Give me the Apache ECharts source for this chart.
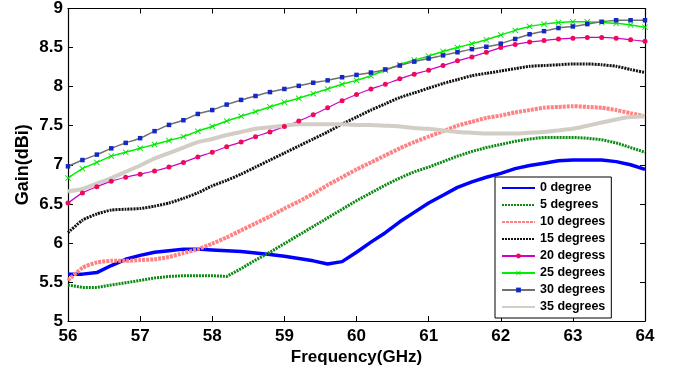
<!DOCTYPE html>
<html><head><meta charset="utf-8">
<script src="https://cdn.jsdelivr.net/npm/echarts@6/dist/echarts.min.js"></script>
<style>html,body{margin:0;padding:0;background:#fff}#c{width:680px;height:371px}</style>
</head><body><div id="c"></div>
<script>
const freq = [56.0,56.2,56.4,56.6,56.8,57.0,57.2,57.4,57.6,57.8,58.0,58.2,58.4,58.6,58.8,59.0,59.2,59.4,59.6,59.8,60.0,60.2,60.4,60.6,60.8,61.0,61.2,61.4,61.6,61.8,62.0,62.2,62.4,62.6,62.8,63.0,63.2,63.4,63.6,63.8,64.0];
const names = ['0 degree','5 degrees','10 degrees','15 degrees','20 degress','25 degrees','30 degrees','35 degrees'];
const deg0  = [5.60,5.60,5.62,5.71,5.79,5.84,5.88,5.90,5.92,5.92,5.91,5.90,5.89,5.87,5.85,5.83,5.80,5.77,5.73,5.76,5.88,6.01,6.13,6.27,6.39,6.51,6.61,6.71,6.78,6.84,6.89,6.95,6.99,7.02,7.05,7.06,7.06,7.06,7.04,7.00,6.94];
const deg5  = [5.46,5.43,5.43,5.46,5.49,5.52,5.55,5.57,5.58,5.58,5.58,5.57,5.67,5.78,5.88,5.99,6.10,6.21,6.32,6.43,6.54,6.64,6.74,6.83,6.91,6.97,7.04,7.11,7.17,7.22,7.26,7.30,7.33,7.35,7.35,7.35,7.34,7.32,7.28,7.22,7.16];
const deg10 = [5.52,5.68,5.75,5.77,5.77,5.78,5.79,5.82,5.87,5.92,5.99,6.07,6.16,6.25,6.34,6.44,6.53,6.63,6.74,6.84,6.94,7.03,7.12,7.21,7.29,7.36,7.43,7.50,7.55,7.60,7.63,7.67,7.70,7.73,7.74,7.75,7.74,7.73,7.70,7.66,7.62];
const deg15 = [6.13,6.29,6.37,6.42,6.43,6.44,6.47,6.51,6.57,6.64,6.73,6.80,6.88,6.97,7.06,7.15,7.24,7.33,7.42,7.52,7.61,7.70,7.78,7.86,7.92,7.98,8.04,8.09,8.14,8.17,8.20,8.23,8.26,8.27,8.28,8.29,8.29,8.28,8.26,8.22,8.18];
const deg20 = [6.51,6.64,6.72,6.79,6.84,6.88,6.92,6.97,7.03,7.10,7.16,7.23,7.29,7.36,7.42,7.49,7.56,7.64,7.73,7.82,7.90,7.97,8.03,8.10,8.16,8.21,8.27,8.33,8.38,8.44,8.50,8.54,8.57,8.59,8.61,8.62,8.63,8.63,8.62,8.60,8.58];
const deg25 = [6.83,6.95,7.03,7.11,7.16,7.21,7.26,7.31,7.36,7.43,7.49,7.56,7.62,7.68,7.74,7.80,7.85,7.91,7.97,8.03,8.08,8.14,8.21,8.28,8.34,8.39,8.45,8.50,8.55,8.60,8.66,8.72,8.77,8.80,8.82,8.83,8.83,8.82,8.81,8.79,8.76];
const deg30 = [6.98,7.06,7.13,7.21,7.28,7.34,7.43,7.51,7.57,7.65,7.70,7.77,7.83,7.88,7.93,7.97,8.01,8.05,8.08,8.12,8.15,8.18,8.22,8.27,8.32,8.36,8.40,8.44,8.48,8.51,8.55,8.61,8.67,8.71,8.75,8.77,8.80,8.83,8.85,8.85,8.85];
const deg35 = [6.66,6.69,6.76,6.83,6.91,6.99,7.08,7.15,7.22,7.29,7.33,7.38,7.42,7.46,7.48,7.50,7.52,7.52,7.52,7.52,7.51,7.51,7.50,7.49,7.47,7.46,7.44,7.42,7.41,7.40,7.40,7.40,7.41,7.42,7.44,7.46,7.50,7.54,7.58,7.61,7.62];

const FONT = '"Liberation Sans", Arial, sans-serif';
const pair = arr => freq.map((f,i)=>[f,arr[i]]);
const xMark = 'path://M0,1L1,0L5,4L9,0L10,1L6,5L10,9L9,10L5,6L1,10L0,9L4,5Z';

const series = [
  {name:names[0], data:pair(deg0), symbol:'none', smooth:false, lineStyle:{color:'#0000ff', width:3.5}, itemStyle:{color:'#0000ff'}},
  {name:names[1], data:pair(deg5), symbol:'none', smooth:false, lineStyle:{color:'#0b8a12', width:3, type:[2,1]}, itemStyle:{color:'#0b8a12'}},
  {name:names[2], data:pair(deg10), symbol:'none', lineStyle:{color:'#ff8282', width:4, type:[3,1]}, itemStyle:{color:'#ff8282'}},
  {name:names[3], data:pair(deg15), symbol:'none', lineStyle:{color:'#111111', width:3, type:[2,1]}, itemStyle:{color:'#111111'}},
  {name:names[4], data:pair(deg20), symbol:'circle', symbolSize:5, lineStyle:{color:'#d000c8', width:1.2}, itemStyle:{color:'#ee0a5a'}},
  {name:names[5], data:pair(deg25), symbol:xMark, symbolSize:6, lineStyle:{color:'#00ee00', width:1.5}, itemStyle:{color:'#00e000'}},
  {name:names[6], data:pair(deg30), symbol:'rect', symbolSize:4.5, lineStyle:{color:'#707070', width:1.5}, itemStyle:{color:'#1428c8'}},
  {name:names[7], data:pair(deg35), symbol:'none', lineStyle:{color:'#d2cec6', width:4}, itemStyle:{color:'#d2cec6'}}
].map(s=>Object.assign({type:'line', smooth:0.2, showSymbol: s.symbol!=='none', xAxisIndex:0, yAxisIndex:0, animation:false, emphasis:{disabled:true}}, s));

const legendData = series.map(s => s.symbol === 'none'
  ? {name:s.name, itemStyle:{opacity:0}}
  : {name:s.name});

const axisCommon = {
  axisLine:{show:true, onZero:false, lineStyle:{color:'#000', width:1.2}},
  axisTick:{show:true, inside:true, length:5, lineStyle:{color:'#000'}},
  splitLine:{show:false}
};

const chart = echarts.init(document.getElementById('c'), null, {renderer:'canvas'});
chart.setOption({
  backgroundColor:'#fff',
  animation:false,
  grid:{left:68, right:35, top:5.5, bottom:50, containLabel:false},
  xAxis:[
    Object.assign({type:'value', min:56, max:64, interval:1, position:'bottom',
      name:'Frequency(GHz)', nameLocation:'middle', nameGap:28, nameMoveOverlap:false,
      nameTextStyle:{fontFamily:FONT, fontWeight:'bold', fontSize:17, color:'#000'},
      axisLabel:{fontFamily:FONT, fontWeight:'bold', fontSize:17, color:'#000', margin:7}}, axisCommon),
    Object.assign({type:'value', min:56, max:64, interval:1, position:'top', axisLabel:{show:false}}, axisCommon)
  ],
  yAxis:[
    Object.assign({type:'value', min:5, max:9, interval:0.5, position:'left',
      name:'Gain(dBi)', nameLocation:'middle', nameGap:36, nameMoveOverlap:false,
      nameTextStyle:{fontFamily:FONT, fontWeight:'bold', fontSize:18, color:'#000'},
      axisLabel:{fontFamily:FONT, fontWeight:'bold', fontSize:17, color:'#000', margin:5}}, axisCommon),
    Object.assign({type:'value', min:5, max:9, interval:0.5, position:'right', axisLabel:{show:false}}, axisCommon)
  ],
  legend:{
    data:legendData, orient:'vertical', left:495, top:177,
    backgroundColor:'#fff', borderColor:'#000', borderWidth:1, borderRadius:0,
    padding:[4,6,4,6], itemWidth:33, itemHeight:6, itemGap:3,
    textStyle:{fontFamily:FONT, fontWeight:'bold', fontSize:12.5, color:'#000', lineHeight:14}
  },
  series: series
});
</script></body></html>
